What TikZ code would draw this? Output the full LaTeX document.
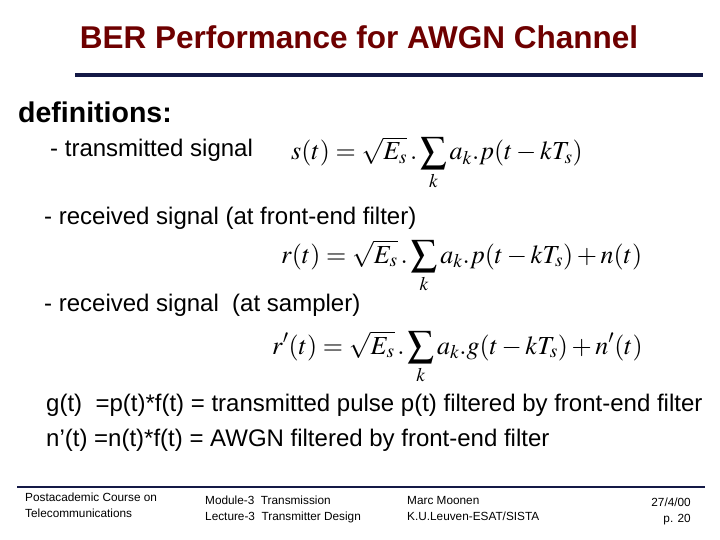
\documentclass[tikz,border=0pt]{standalone}
\usepackage{mathptmx}
\usepackage{fontspec}
\setmainfont{Liberation Sans}
\begin{document}
\begin{tikzpicture}[x=1pt,y=-1pt,
  eq/.style={anchor=base west,inner sep=0pt,font=\fontsize{26}{30}\selectfont},
  body/.style={anchor=west,inner sep=0pt,font=\fontsize{24}{28}\selectfont},
  foot/.style={anchor=north west,inner sep=0pt,align=left,font=\fontsize{11.8}{16}\selectfont}]
\useasboundingbox (0,0) rectangle (720,540);
\definecolor{ttl}{RGB}{110,0,0}
\definecolor{rule}{RGB}{20,25,70}
\node[inner sep=0pt,font=\fontsize{31.5}{34}\bfseries\selectfont,text=ttl] (title) at (359,37) {BER Performance for AWGN Channel};
\draw[rule,line width=3.5pt] (75,75) -- (703,75);
\node[body,font=\fontsize{28.5}{32}\bfseries\selectfont] (def) at (18,112) {definitions:};
\node[body] (t1) at (50,150) {- transmitted signal};
\node[eq] (e1) at (291,160) {$\displaystyle s(t)=\sqrt{E_s}\,.\sum_k a_k.p(t-kT_s)$};
\node[body] (t2) at (44,218) {- received signal (at front-end filter)};
\node[eq] (e2) at (281,263) {$\displaystyle r(t)=\sqrt{E_s}\,.\sum_k a_k.p(t-kT_s)+n(t)$};
\node[body] (t3) at (44,305) {- received signal\ \ (at sampler)};
\node[eq] (e3) at (272,354) {$\displaystyle r'(t)=\sqrt{E_s}\,.\sum_k a_k.g(t-kT_s)+n'(t)$};
\node[body] (t4) at (46,405) {g(t)\ \ =p(t)*f(t) = transmitted pulse p(t) filtered by front-end filter};
\node[body] (t5) at (46,440) {n’(t) =n(t)*f(t) = AWGN filtered by front-end filter};
\draw[rule,line width=2.5pt] (17,487) -- (705,487);
\node[foot] (f1) at (25,493) {Postacademic Course on\\Telecommunications};
\node[foot] (f2) at (205,496) {Module-3\ \ Transmission\\Lecture-3\ \ Transmitter Design};
\node[foot] (f3) at (407,496) {Marc Moonen\\K.U.Leuven-ESAT/SISTA};
\node[foot,anchor=north east,align=right] (f4) at (691,498) {27/4/00\\p. 20};
\end{tikzpicture}
\end{document}
